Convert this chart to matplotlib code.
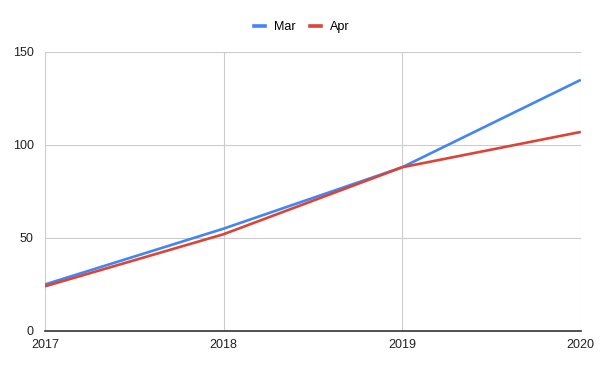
import matplotlib
matplotlib.use("Agg")
import matplotlib.pyplot as plt
from matplotlib.lines import Line2D

years = [2017, 2018, 2019, 2020]
mar = [25, 55, 88, 135]
apr = [24, 52, 88, 107]
yticks = [0, 50, 100, 150]

plt.rcParams['font.family'] = ['Liberation Sans', 'DejaVu Sans']

fig = plt.figure(figsize=(6, 3.71), dpi=100)
ax = fig.add_axes([0.075, 0.108, 0.893, 0.752])

ax.plot(years, mar, color='#4285F4', lw=1.9, label='Mar', zorder=3, solid_capstyle='butt')
ax.plot(years, apr, color='#DB4437', lw=1.9, label='Apr', zorder=3, solid_capstyle='butt')

ax.set_xlim(2017, 2020)
ax.set_ylim(0, 150)
ax.set_xticks(years)
ax.set_xticklabels([str(y) for y in years])
ax.set_yticks(yticks)
ax.grid(True, color='#cccccc', lw=0.8)
ax.set_axisbelow(True)
for s in ['top', 'right', 'left']:
    ax.spines[s].set_visible(False)
ax.spines['bottom'].set_color('#333333')
ax.spines['bottom'].set_linewidth(1.2)
ax.spines['bottom'].set_zorder(4)
ax.tick_params(axis='both', length=0, labelsize=9, colors='#222222')
ax.tick_params(axis='y', pad=8)
ax.tick_params(axis='x', pad=6)

handles = [Line2D([], [], color='#4285F4', lw=2.6), Line2D([], [], color='#DB4437', lw=2.6)]
fig.legend(handles, ['Mar', 'Apr'], loc='center', bbox_to_anchor=(0.503, 0.927), ncol=2,
           frameon=False, fontsize=9, handlelength=0.88, columnspacing=1.2, handletextpad=0.72)

fig.savefig('out.png', dpi=100)
